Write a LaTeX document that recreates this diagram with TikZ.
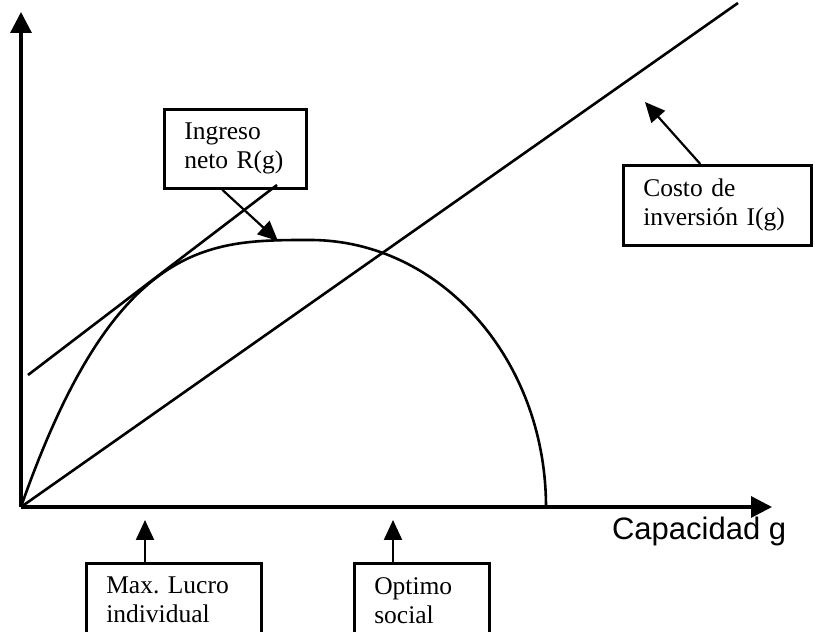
\documentclass[tikz,border=0pt]{standalone}
\usepackage{fontspec}
\setmainfont{Liberation Serif}
\newfontfamily\axisfont{Liberation Sans}
\usetikzlibrary{arrows.meta, calc}

\begin{document}
\begin{tikzpicture}[
    x=0.5pt, y=0.5pt,
    axis/.style={-{Triangle[length=10.5pt, width=10.5pt]}, line width=1.6pt},
    curve/.style={line width=1.3pt},
    note/.style={draw, line width=1.3pt, anchor=north west, align=left,
        inner xsep=10pt, inner ysep=7pt, font=\fontsize{12.75}{14.5}\selectfont},
    pointer/.style={-{Triangle[length=10pt, width=9pt]}, line width=1.1pt}
]
    \useasboundingbox (0,0) rectangle (815,632);
    \clip (0,0) rectangle (815,632);

    % axes
    \coordinate (o) at (21,125);
    \coordinate (ytop) at (21,620);
    \coordinate (xend) at (772,125);
    \draw[axis] (o) -- (ytop);
    \draw[axis] (o) -- (xend);
    \node[anchor=base west, font={\axisfont\fontsize{15.5}{18}\selectfont}] (glabel) at (605,92) {Capacidad g};

    % cost line, tangent and R(g)
    \coordinate (cend) at (738,629);
    \coordinate (ta) at (28,257);
    \coordinate (tb) at (277,447);
    \draw[curve] (o) -- (cend);
    \draw[curve] (ta) -- (tb);
    \draw[curve] plot[domain=21:309, samples=80]
        (\x, {125 + 267*(1 - ((310-\x)/289)^3.1)})
        -- (310,392)
        arc[start angle=90, end angle=0, x radius=118pt, y radius=133.5pt];

    % labels
    \node[note, text width=51pt] (ingreso) at (163,524) {Ingreso\\neto R(g)};
    \node[note, text width=74pt] (costo) at (622,468) {Costo de\\inversión I(g)};
    \node[note, text width=67.5pt] (lucro) at (85,70) {Max.\ Lucro\\individual};
    \node[note, text width=47.5pt] (optimo) at (353,70) {Optimo\\social};

    \coordinate (rtip) at (278,391);
    \coordinate (ctip) at (645,530);
    \coordinate (lucrotip) at (145,112);
    \coordinate (optimotip) at (393,112);
    \draw[pointer] ($(ingreso.south)+(-13,0)$) -- (rtip);
    \draw[pointer] ($(costo.north)+(-17,0)$) -- (ctip);
    \draw[pointer] (lucrotip |- lucro.north) -- (lucrotip);
    \draw[pointer] (optimotip |- optimo.north) -- (optimotip);
\end{tikzpicture}
\end{document}
